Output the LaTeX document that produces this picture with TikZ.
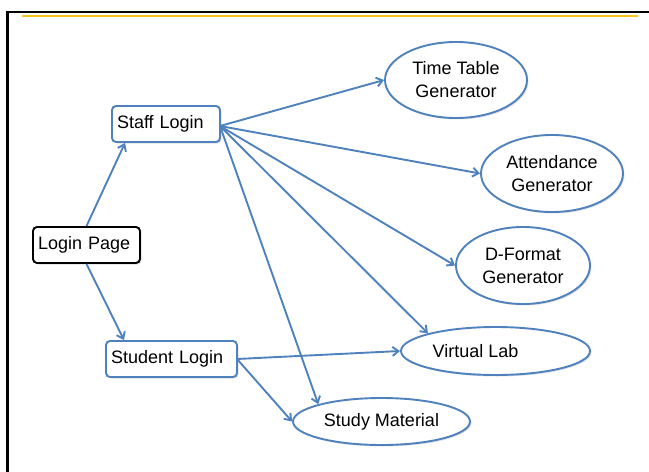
\documentclass[tikz,border=0pt]{standalone}
\usepackage{fontspec}
\setmainfont{Liberation Sans}
\usetikzlibrary{shapes.geometric,arrows.meta,shadows}
\definecolor{lblue}{HTML}{4F81BD}
\definecolor{gold}{HTML}{F5C518}
\begin{document}
\begin{tikzpicture}[x=1pt,y=-1pt,
  every node/.style={font=\fontsize{18}{23}\selectfont, align=center, inner sep=0pt},
  boxnode/.style={draw=lblue, line width=1.9pt, rounded corners=4pt, fill=white,
    align=left, inner xsep=5pt,
    drop shadow={shadow xshift=1.5pt, shadow yshift=-1.5pt, opacity=0.25}},
  ellnode/.style={draw=lblue, line width=1.9pt, ellipse, fill=white,
    drop shadow={shadow xshift=1.5pt, shadow yshift=-1.5pt, opacity=0.25}},
  conn/.style={draw=lblue, line width=1.9pt, -{Straight Barb[length=6pt,width=9pt,line width=1.9pt]}}
]
\useasboundingbox (0,0) rectangle (649,472);
% frame
\draw[line width=2.2pt] (7.5,472) -- (7.5,12) -- (649,12);
\draw[gold, line width=2pt] (22,15.5) -- (638,15.5);

% nodes
\node[boxnode, draw=black, text width=97pt, minimum height=36pt] (login) at (86.5,245) {Login Page};
\node[boxnode, text width=98pt, minimum height=36pt] (staff) at (166,124) {Staff Login};
\node[boxnode, text width=121pt, minimum height=36pt] (student) at (171.5,359) {Student Login};

\node[ellnode, minimum width=142pt, minimum height=76pt] (tt) at (456,80) {Time Table\\Generator};
\node[ellnode, minimum width=142pt, minimum height=77pt] (att) at (552,173.5) {Attendance\\Generator};
\node[ellnode, minimum width=134pt, minimum height=77pt] (df) at (523,265.5) {D-Format\\Generator};
\node[ellnode, minimum width=189pt, minimum height=48pt,
  label={[xshift=-20pt]center:Virtual Lab}] (vl) at (495.5,351) {};
\node[ellnode, minimum width=177pt, minimum height=47pt] (sm) at (381.5,421.5) {Study Material};

% connectors
\coordinate (staffR) at (220,126);
\coordinate (studR) at (237,359);
\draw[conn] (login.north) -- (staff.south -| 125,0);
\draw[conn] (login.south) -- (student.north -| 124,0);
\draw[conn] (staffR) -- (tt.west);
\draw[conn] (staffR) -- (att.west);
\draw[conn] (staffR) -- (df.west);
\draw[conn] (staffR) -- (vl.north west);
\draw[conn] (staffR) -- (sm.north west);
\draw[conn] (studR) -- (vl.west);
\draw[conn] (studR) -- (sm.west);
\end{tikzpicture}
\end{document}
